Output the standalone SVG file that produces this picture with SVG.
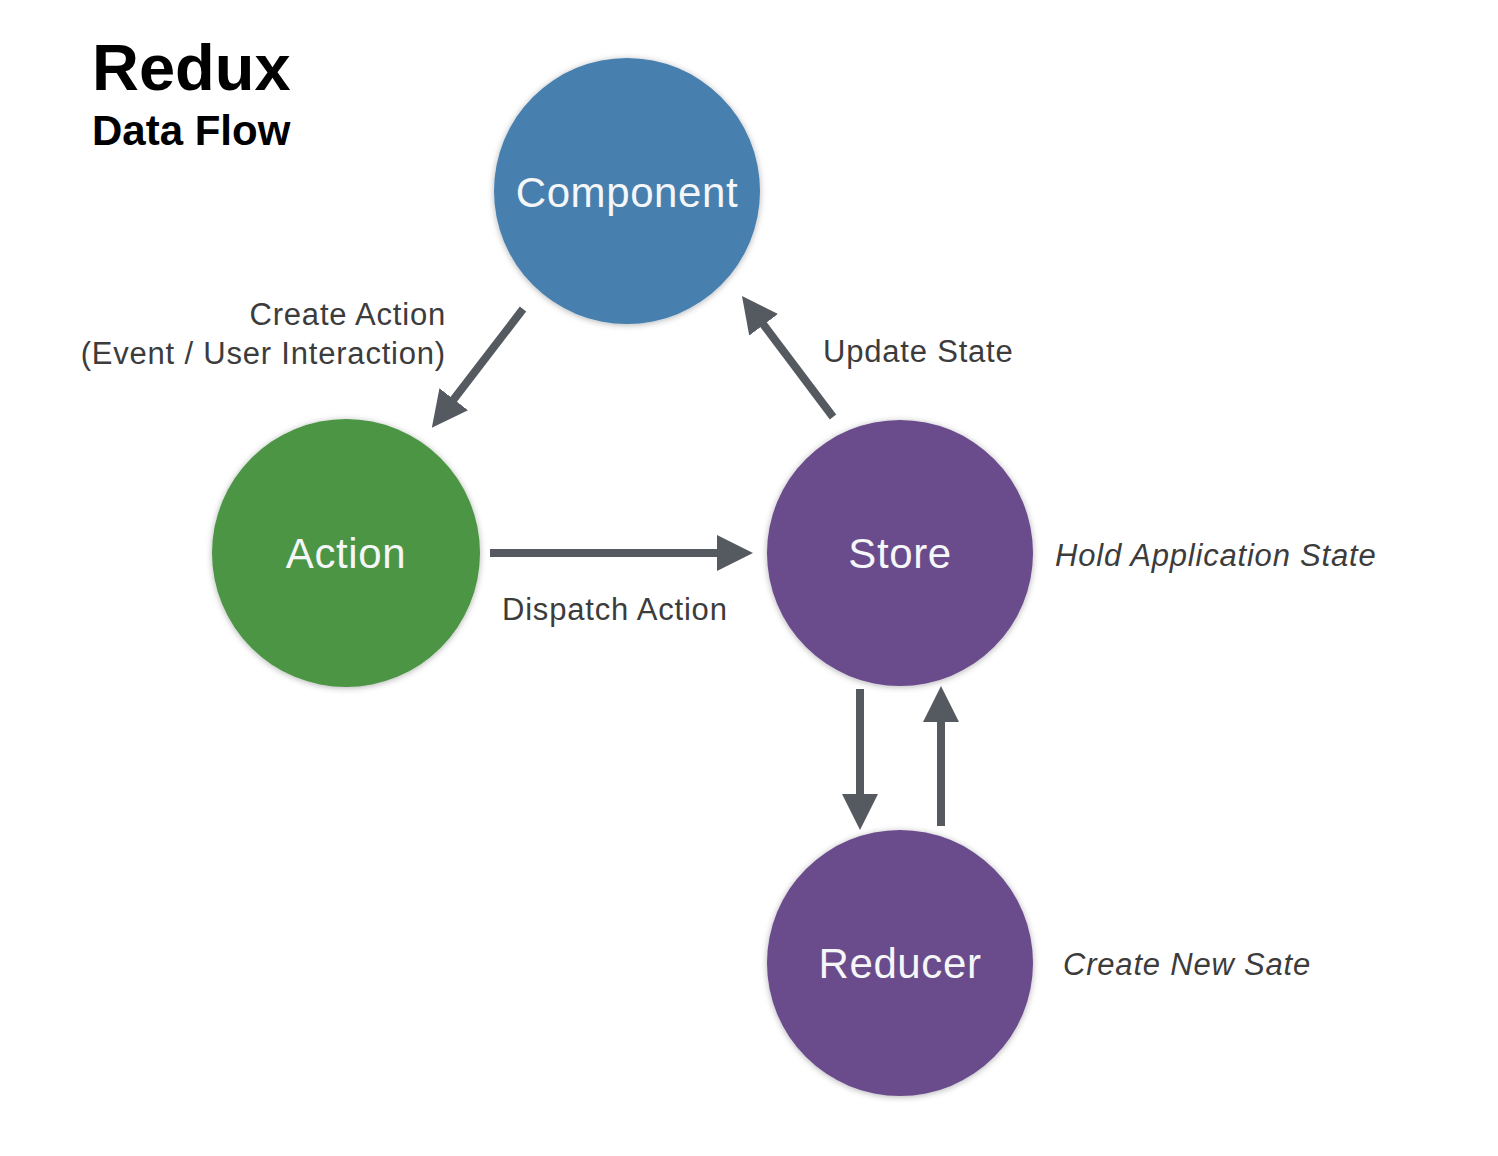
<svg xmlns="http://www.w3.org/2000/svg" width="1498" height="1156" viewBox="0 0 1498 1156">
<style>
.title{font-family:"Liberation Sans",Arial,sans-serif;font-weight:bold;fill:#000}
.node{stroke:none;filter:url(#sh)}
.nlabel{font-family:"Liberation Sans",Arial,sans-serif;font-size:42px;letter-spacing:0.6px;fill:#f4f6f8;text-anchor:middle}
.lbl{font-family:"Liberation Sans",Arial,sans-serif;font-size:31px;letter-spacing:0.8px;fill:#3c3c3c}
.it{font-style:italic}
.conn{stroke:#555a60;stroke-width:8;fill:none;marker-end:url(#ah)}
</style>
<defs>
<filter id="sh" x="-10%" y="-10%" width="120%" height="120%">
<feDropShadow dx="0" dy="1" stdDeviation="3" flood-color="#000" flood-opacity="0.3"/>
</filter>
<marker id="ah" markerUnits="userSpaceOnUse" markerWidth="36" markerHeight="36" refX="16" refY="18" orient="auto">
<path d="M0,0 L36,18 L0,36 z" fill="#555a60"/>
</marker>
</defs>
<rect width="1498" height="1156" fill="#ffffff"/>
<text class="title" x="92" y="90" font-size="65">Redux</text>
<text class="title" x="92" y="145" font-size="42">Data Flow</text>
<g id="connectors">
<line class="conn" x1="523" y1="309" x2="444" y2="412"/>
<line class="conn" x1="833" y1="417" x2="754" y2="312"/>
<line class="conn" x1="490" y1="553" x2="733" y2="553"/>
<line class="conn" x1="860" y1="689" x2="860" y2="810"/>
<line class="conn" x1="941" y1="826" x2="941" y2="706"/>
</g>
<g id="component">
<circle class="node" cx="627" cy="191" r="133" fill="#467fae"/>
<text class="nlabel" x="627" y="207">Component</text>
</g>
<g id="action">
<circle class="node" cx="346" cy="553" r="134" fill="#4b9545"/>
<text class="nlabel" x="346" y="568">Action</text>
</g>
<g id="store">
<circle class="node" cx="900" cy="553" r="133" fill="#6a4b8b"/>
<text class="nlabel" x="900" y="568">Store</text>
</g>
<g id="reducer">
<circle class="node" cx="900" cy="963" r="133" fill="#6a4b8b"/>
<text class="nlabel" x="900" y="978">Reducer</text>
</g>
<g id="labels">
<text class="lbl" x="446" y="325" text-anchor="end">Create Action</text>
<text class="lbl" x="446" y="364" text-anchor="end">(Event / User Interaction)</text>
<text class="lbl" x="823" y="362">Update State</text>
<text class="lbl" x="502" y="620">Dispatch Action</text>
<text class="lbl it" x="1055" y="566">Hold Application State</text>
<text class="lbl it" x="1063" y="975">Create New Sate</text>
</g>
</svg>
